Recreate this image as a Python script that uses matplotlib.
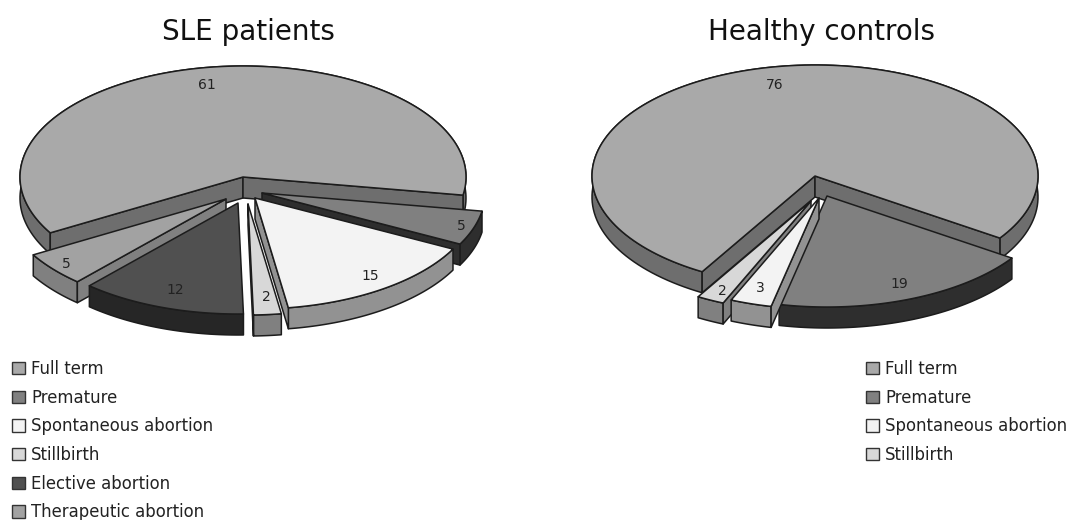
import numpy as np
import matplotlib
matplotlib.use("Agg")
import matplotlib.pyplot as plt
from matplotlib.patches import Patch, Polygon

# pregnancy outcomes, percent
sle_labels = ["Full term", "Premature", "Spontaneous abortion", "Stillbirth",
              "Elective abortion", "Therapeutic abortion"]
sle_values = [61, 5, 15, 2, 12, 5]
ctrl_labels = ["Full term", "Premature", "Spontaneous abortion", "Stillbirth"]
ctrl_values = [76, 19, 3, 2]

# (top, side) grey of every outcome
top_colors = ["#a9a9a9", "#808080", "#f3f3f3", "#d8d8d8", "#505050", "#a2a2a2"]
side_colors = ["#6e6e6e", "#2e2e2e", "#929292", "#808080", "#262626", "#808080"]

# shift of each slice out of the pie, in pixels
sle_shift = [(0, 0), (19, 16), (12, 21), (5, 27), (-5, 26), (-17, 22)]
ctrl_shift = [(0, 0), (12, 20), (4, 22), (-4, 25)]

# where the numbers sit
sle_text = [(207, 85), (461, 226), (370, 276), (266, 297), (175, 290), (66, 264)]
ctrl_text = [(775, 85), (899, 284), (760, 288), (722, 291)]

RX, RY, DEPTH = 223, 111, 21
EDGE = "#1c1c1c"


def rim(cx, cy, a, b):
    t = np.radians(np.linspace(a, b, 150))
    return np.column_stack([cx + RX * np.cos(t), cy - RY * np.sin(t)])


def draw_slice(ax, cx, cy, a, b, top, side, order):
    down = np.array([0, DEPTH])
    apex = np.array([cx, cy])
    arc = rim(cx, cy, a, b)
    kw = dict(closed=True, edgecolor=EDGE, linewidth=1.1, joinstyle="round", zorder=order)

    # outer band, the top face hides whatever part of it faces backwards
    ax.add_patch(Polygon(np.vstack([arc, arc[::-1] + down]), facecolor=side, **kw))
    # cut faces turned towards the viewer
    if np.sin(np.radians(a + 90)) < 0:
        ax.add_patch(Polygon([apex, arc[0], arc[0] + down, apex + down], facecolor=side, **kw))
    if np.sin(np.radians(b - 90)) < 0:
        ax.add_patch(Polygon([apex, arc[-1], arc[-1] + down, apex + down], facecolor=side, **kw))
    ax.add_patch(Polygon(np.vstack([apex, arc]), facecolor=top, **kw))


def draw_pie(ax, cx, cy, values, shifts, start):
    # slices run clockwise from start, the first one is the big one
    a = start
    spans = []
    for v in values:
        b = a - v * 3.6
        spans.append((a, b))
        a = b
    # paint from back to front
    dist = [abs(((a + b) / 2 + 90 + 180) % 360 - 180) for a, b in spans]
    back_to_front = np.argsort(dist)[::-1]
    for order, i in enumerate(back_to_front):
        a, b = spans[i]
        draw_slice(ax, cx + shifts[i][0], cy + shifts[i][1], a, b,
                   top_colors[i], side_colors[i], order + 2)


def add_legend(ax, labels, x, y):
    handles = [Patch(facecolor=c, edgecolor="#333333", linewidth=1.0) for c in top_colors[:len(labels)]]
    leg = ax.legend(handles, labels, loc="upper left", bbox_to_anchor=(x / 1069, 1 - y / 520),
                    frameon=False, fontsize=11.9, handlelength=0.78, handleheight=0.78,
                    handletextpad=0.38, labelspacing=0.645, borderpad=0, borderaxespad=0,
                    labelcolor="#222222")
    ax.legend_ = None
    ax.add_artist(leg)


fig = plt.figure(figsize=(10.69, 5.2), dpi=100)
ax = fig.add_axes([0, 0, 1, 1])
ax.set_xlim(0, 1069)
ax.set_ylim(520, 0)
ax.axis("off")

draw_pie(ax, 243, 177, sle_values, sle_shift, 210.2)
draw_pie(ax, 815, 176, ctrl_values, ctrl_shift, 239.6)

ax.text(248, 32, "SLE patients", fontsize=20, ha="center", va="center", color="#111111")
ax.text(822, 32, "Healthy controls", fontsize=20, ha="center", va="center", color="#111111")

for v, (x, y) in zip(sle_values, sle_text):
    ax.text(x, y, str(v), fontsize=10, ha="center", va="center", color="#222222", zorder=20)
for v, (x, y) in zip(ctrl_values, ctrl_text):
    ax.text(x, y, str(v), fontsize=10, ha="center", va="center", color="#222222", zorder=20)

add_legend(ax, sle_labels, 12, 360)
add_legend(ax, ctrl_labels, 866, 360)

fig.savefig("out.png", dpi=100)
